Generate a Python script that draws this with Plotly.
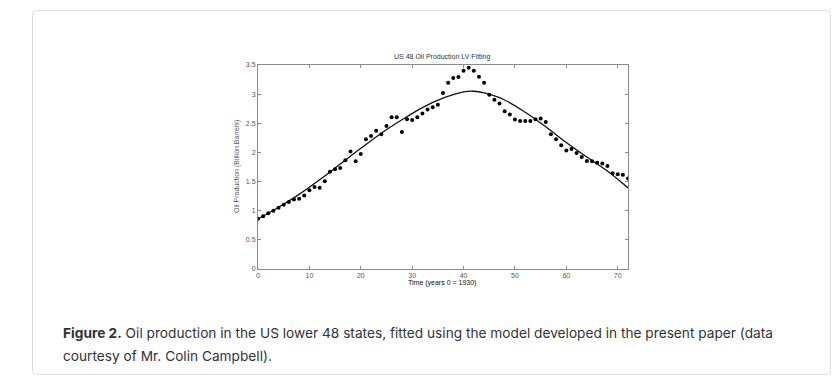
import plotly.graph_objects as go

# ---- data ----
years = list(range(0, 73))
production = [0.864, 0.903, 0.955, 1.0, 1.051, 1.102, 1.148, 1.193, 1.205, 1.261,
              1.352, 1.409, 1.392, 1.506, 1.67, 1.71, 1.733, 1.864, 2.017, 1.847,
              1.972, 2.228, 2.28, 2.373, 2.31, 2.454, 2.604, 2.604, 2.35, 2.569,
              2.558, 2.604, 2.668, 2.737, 2.777, 2.818, 3.02, 3.194, 3.275, 3.292,
              3.40, 3.454, 3.40, 3.298, 3.194, 2.99, 2.905, 2.84, 2.708, 2.65,
              2.564, 2.54, 2.54, 2.54, 2.569, 2.58, 2.523, 2.31, 2.228, 2.125,
              2.034, 2.057, 1.989, 1.92, 1.852, 1.847, 1.824, 1.81, 1.767, 1.642,
              1.625, 1.619, 1.551]
fit_years = [0, 4, 8, 12, 16, 20, 24, 28, 32, 36, 40, 42, 44, 48, 52, 56, 60, 64, 68, 72]
fit_values = [0.86, 1.06, 1.28, 1.53, 1.80, 2.07, 2.33, 2.56, 2.77, 2.93, 3.04, 3.05,
              3.02, 2.90, 2.69, 2.44, 2.17, 1.92, 1.68, 1.39]
x_ticks = [0, 10, 20, 30, 40, 50, 60, 70]
y_ticks = [0, 0.5, 1, 1.5, 2, 2.5, 3, 3.5]
y_tick_text = ["0", "0.5", "1", "1.5", "2", "2.5", "3", "3.5"]

title_text = "US 48 Oil Production LV Fitting"
x_title = "Time (years 0 = 1930)"
y_title = "Oil Production (Billion Barrels)"
caption_1 = "<b>Figure 2.</b> Oil production in the US lower 48 states, fitted using the model developed in the present paper (data"
caption_2 = "courtesy of Mr. Colin Campbell)."

# ---- layout geometry (pixels) ----
WIDTH, HEIGHT = 837, 389
L, R, T, B = 258, 628, 65, 269
PW, PH = R - L, B - T


def px(x):
    return (x - L) / PW


def py(y):
    return (B - y) / PH


fig = go.Figure()
fig.add_trace(go.Scatter(x=fit_years, y=fit_values, mode="lines",
                         line=dict(color="#111111", width=1.3, shape="spline", smoothing=1.0),
                         hoverinfo="skip", showlegend=False))
fig.add_trace(go.Scatter(x=years, y=production, mode="markers",
                         marker=dict(color="#000000", size=4),
                         showlegend=False))

axis_common = dict(showgrid=False, zeroline=False, showline=True, linecolor="#8a8a8a",
                   linewidth=1, mirror="ticks", ticks="inside", ticklen=3,
                   tickcolor="#8a8a8a",
                   tickfont=dict(family="Liberation Sans, Arial, sans-serif", size=7, color="#555555"))

fig.update_xaxes(range=[0, 72], tickvals=x_ticks, ticktext=[str(v) for v in x_ticks], **axis_common)
fig.update_yaxes(range=[0, 3.5], tickvals=y_ticks, ticktext=y_tick_text, **axis_common)

# card with rounded corners
x0, x1 = px(32.5), px(830.5)
y0, y1 = py(374.5), py(10.5)
rx, ry = 4 / PW, 4 / PH
path = (f"M {x0+rx},{y1} L {x1-rx},{y1} Q {x1},{y1} {x1},{y1-ry} "
        f"L {x1},{y0+ry} Q {x1},{y0} {x1-rx},{y0} L {x0+rx},{y0} "
        f"Q {x0},{y0} {x0},{y0+ry} L {x0},{y1-ry} Q {x0},{y1} {x0+rx},{y1} Z")
fig.add_shape(type="path", path=path, xref="paper", yref="paper",
              line=dict(color="#dcdcdc", width=1), fillcolor="rgba(0,0,0,0)", layer="below")

chart_font = "Liberation Sans, Arial, sans-serif"
fig.add_annotation(text=title_text, xref="paper", yref="paper", x=px(442), y=py(57),
                   xanchor="center", yanchor="middle", showarrow=False,
                   font=dict(family=chart_font, size=7, color="#333333"))
fig.add_annotation(text=x_title, xref="paper", yref="paper", x=px(442), y=py(283),
                   xanchor="center", yanchor="middle", showarrow=False,
                   font=dict(family=chart_font, size=7, color="#111111"))
fig.add_annotation(text=y_title, xref="paper", yref="paper", x=px(237), y=py(167),
                   xanchor="center", yanchor="middle", showarrow=False, textangle=-90,
                   font=dict(family=chart_font, size=7, color="#555555"))

cap_font = dict(family="Inter, Roboto, sans-serif", size=13.7, color="#333333")
fig.add_annotation(text=caption_1, xref="paper", yref="paper", x=px(61), y=py(333),
                   xanchor="left", yanchor="middle", showarrow=False, font=cap_font)
fig.add_annotation(text=caption_2, xref="paper", yref="paper", x=px(61), y=py(356),
                   xanchor="left", yanchor="middle", showarrow=False, font=cap_font)

fig.update_layout(width=WIDTH, height=HEIGHT,
                  margin=dict(l=L, r=WIDTH - R, t=T, b=HEIGHT - B),
                  paper_bgcolor="#ffffff", plot_bgcolor="#ffffff")

fig.write_html("out.html", config={"displayModeBar": False},
               post_script="document.body.style.margin='0';document.body.style.overflow='hidden';")
